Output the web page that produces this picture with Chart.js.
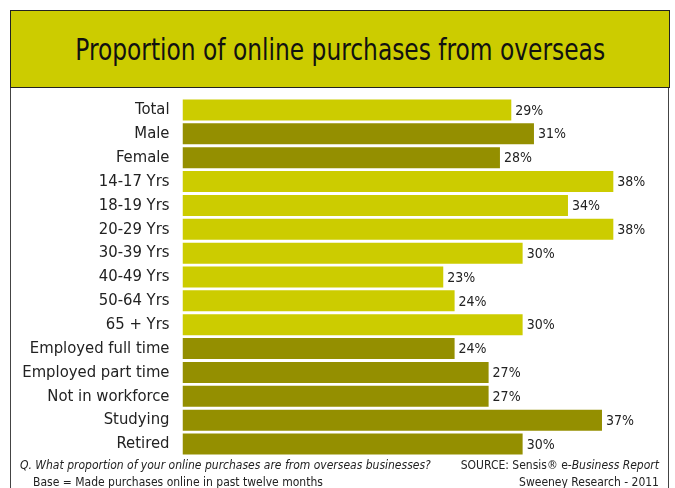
<!DOCTYPE html>
<html>
<head>
<meta charset="utf-8">
<script src="https://cdn.jsdelivr.net/npm/chart.js@4"></script>
<style>
  html, body { margin: 0; padding: 0; background: #fff; }
  body { width: 675px; height: 488px; position: relative; overflow: hidden; font-family: "DejaVu Sans Condensed", sans-serif; }
  .frame { position: absolute; left: 10px; top: 10px; width: 659px; height: 490px; border: 1px solid #444; box-sizing: border-box; }
  .titlebox { position: absolute; left: 10px; top: 10px; width: 660px; height: 78px; background: #cccc00; border: 1px solid #222; box-sizing: border-box;
    display: flex; align-items: center; justify-content: center; font-family: "DejaVu Sans Condensed", sans-serif; font-size: 30px; color: #111; }
  .titlebox span { display: inline-block; transform: scaleX(0.865); white-space: nowrap; }
  #wrap { position: absolute; left: 0; top: 88px; width: 675px; height: 372px; }
  .foot { position: absolute; font-size: 12px; color: #222; white-space: nowrap; }
</style>
</head>
<body>
<div class="frame"></div>
<div class="titlebox"><span>Proportion of online purchases from overseas</span></div>
<div id="wrap"><canvas id="chart"></canvas></div>
<div class="foot" style="left:20px; top:458px; font-style:italic;">Q. What proportion of your online purchases are from overseas businesses?</div>
<div class="foot" style="left:33px; top:475px;">Base = Made purchases online in past twelve months</div>
<div class="foot" style="right:16px; top:458px;">SOURCE: Sensis® e-<i>Business Report</i></div>
<div class="foot" style="right:16px; top:475px;">Sweeney Research - 2011</div>
<script>
// ===== DATA =====
const CATEGORIAS = ['Total', 'Male', 'Female', '14-17 Yrs', '18-19 Yrs', '20-29 Yrs', '30-39 Yrs', '40-49 Yrs',
  '50-64 Yrs', '65 + Yrs', 'Employed full time', 'Employed part time', 'Not in workforce', 'Studying', 'Retired'];
const VALORES = [29, 31, 28, 38, 34, 38, 30, 23, 24, 30, 24, 27, 27, 37, 30];
const GRUPOS = ['total', 'sexo', 'sexo', 'idade', 'idade', 'idade', 'idade', 'idade',
  'idade', 'idade', 'trabalho', 'trabalho', 'trabalho', 'trabalho', 'trabalho'];

const CORES = { total: '#cccc00', idade: '#cccc00', sexo: '#948f00', trabalho: '#948f00' };

const rotulos = {
  id: 'rotulos',
  afterDatasetsDraw(chart) {
    const c = chart.ctx;
    const meta = chart.getDatasetMeta(0);
    c.save();
    c.font = '14px "DejaVu Sans Condensed", sans-serif';
    c.fillStyle = '#222';
    c.textBaseline = 'middle';
    meta.data.forEach((bar, i) => {
      c.fillText(VALORES[i] + '%', bar.x + 4, bar.y + 1);
    });
    c.restore();
  }
};

new Chart(document.getElementById('chart'), {
  type: 'bar',
  data: {
    labels: CATEGORIAS,
    datasets: [{
      data: VALORES,
      backgroundColor: GRUPOS.map(g => CORES[g]),
      barPercentage: 0.88,
      categoryPercentage: 1
    }]
  },
  options: {
    indexAxis: 'y',
    responsive: true,
    maintainAspectRatio: false,
    animation: false,
    layout: { padding: { top: 10, bottom: 4, right: 39, left: 0 } },
    plugins: { legend: { display: false }, tooltip: { enabled: false } },
    scales: {
      x: { display: false, min: 0, max: 40 },
      y: {
        grid: { display: false, drawTicks: false },
        border: { display: false },
        afterFit(s) { s.width = 182.5; s.paddingTop = 0; s.paddingBottom = 0; },
        ticks: { padding: 13, color: '#222', font: { family: '"DejaVu Sans Condensed", sans-serif', size: 16.5 } }
      }
    }
  },
  plugins: [rotulos]
});
</script>
</body>
</html>
